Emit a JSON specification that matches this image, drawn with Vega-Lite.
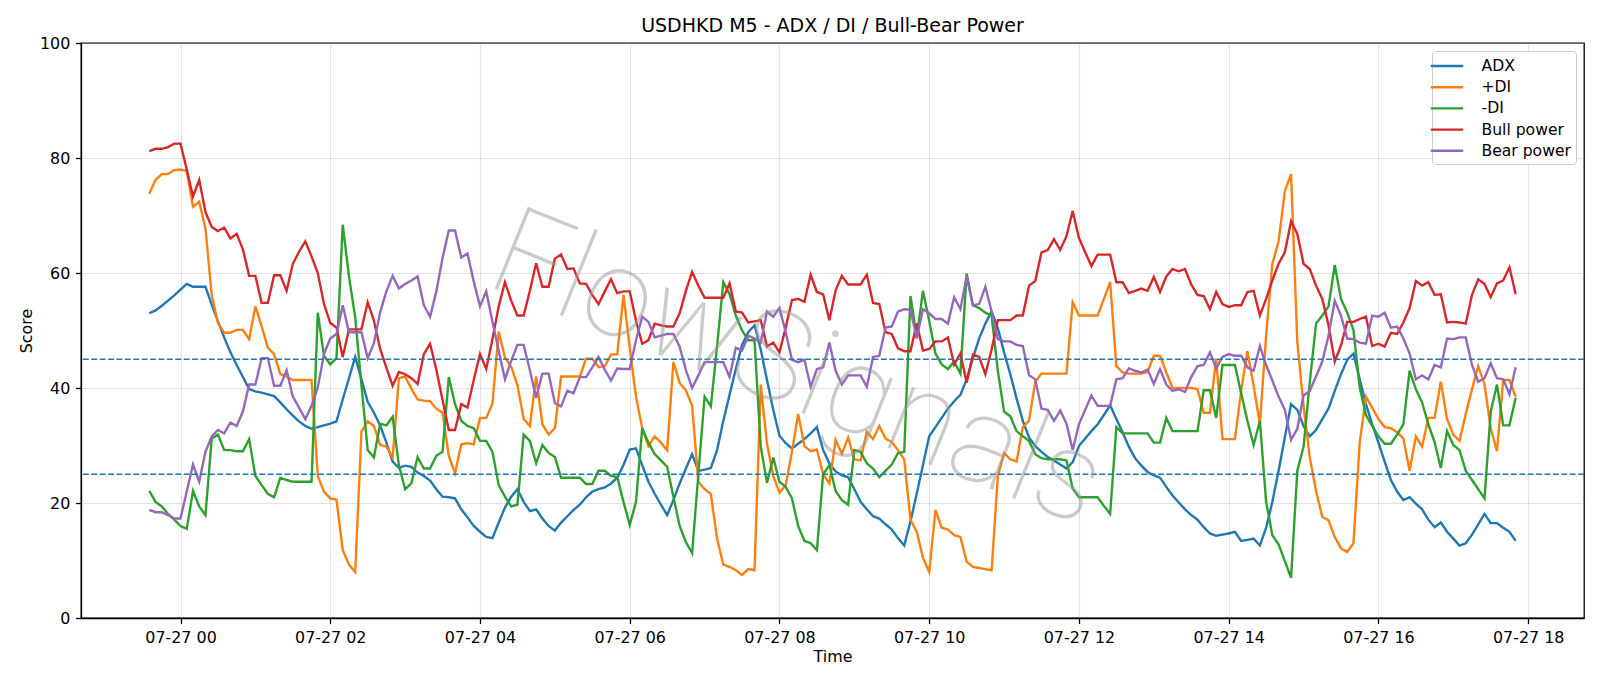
{
  "$schema": "https://vega.github.io/schema/vega-lite/v6.json",
  "width": 1503,
  "height": 575,
  "autosize": {"type": "none"},
  "padding": {"left": 81, "top": 43, "right": 16, "bottom": 68},
  "background": "white",
  "title": {"text": "USDHKD M5 - ADX / DI / Bull-Bear Power", "fontSize": 19, "fontWeight": "normal", "color": "black", "offset": -1},
  "config": {
    "font": "DejaVu Sans",
    "view": {"stroke": "black", "strokeWidth": 1.3},
    "axis": {"domainColor": "black", "domainWidth": 1.3, "tickColor": "black", "tickWidth": 1.3, "tickSize": 5.6,
             "labelFontSize": 15.9, "labelColor": "black", "labelPadding": 5.6,
             "titleFontSize": 15.9, "titleFontWeight": "normal", "titleColor": "black",
             "gridColor": "#b0b0b0", "gridOpacity": 0.35, "gridWidth": 1.2}
  },
  "datasets": {
    "ind": [
{"t":"2025-07-26T23:35","ADX":53.0,"+DI":73.8,"-DI":22.1,"Bull power":81.2,"Bear power":18.8},
{"t":"2025-07-26T23:40","ADX":53.5,"+DI":76.2,"-DI":20.2,"Bull power":81.6,"Bear power":18.4},
{"t":"2025-07-26T23:45","ADX":54.3,"+DI":77.2,"-DI":19.4,"Bull power":81.6,"Bear power":18.4},
{"t":"2025-07-26T23:50","ADX":55.2,"+DI":77.2,"-DI":18.1,"Bull power":81.9,"Bear power":17.9},
{"t":"2025-07-26T23:55","ADX":56.1,"+DI":77.9,"-DI":17.1,"Bull power":82.5,"Bear power":17.3},
{"t":"2025-07-27T00:00","ADX":57.1,"+DI":78.0,"-DI":16.0,"Bull power":82.5,"Bear power":17.3},
{"t":"2025-07-27T00:05","ADX":58.1,"+DI":77.7,"-DI":15.5,"Bull power":78.0,"Bear power":22.0},
{"t":"2025-07-27T00:10","ADX":57.6,"+DI":71.5,"-DI":22.1,"Bull power":73.3,"Bear power":26.7},
{"t":"2025-07-27T00:15","ADX":57.6,"+DI":72.4,"-DI":19.4,"Bull power":76.2,"Bear power":23.7},
{"t":"2025-07-27T00:20","ADX":57.6,"+DI":67.7,"-DI":17.9,"Bull power":70.6,"Bear power":28.9},
{"t":"2025-07-27T00:25","ADX":54.5,"+DI":56.2,"-DI":31.2,"Bull power":68.0,"Bear power":31.6},
{"t":"2025-07-27T00:30","ADX":51.6,"+DI":51.3,"-DI":31.9,"Bull power":67.3,"Bear power":32.7},
{"t":"2025-07-27T00:35","ADX":48.8,"+DI":49.6,"-DI":29.2,"Bull power":67.9,"Bear power":32.1},
{"t":"2025-07-27T00:40","ADX":46.2,"+DI":49.6,"-DI":29.2,"Bull power":66.0,"Bear power":34.0},
{"t":"2025-07-27T00:45","ADX":44.0,"+DI":50.1,"-DI":29.0,"Bull power":66.8,"Bear power":33.4},
{"t":"2025-07-27T00:50","ADX":41.9,"+DI":50.1,"-DI":29.0,"Bull power":64.1,"Bear power":35.9},
{"t":"2025-07-27T00:55","ADX":39.8,"+DI":48.5,"-DI":31.1,"Bull power":59.5,"Bear power":40.6},
{"t":"2025-07-27T01:00","ADX":39.4,"+DI":54.2,"-DI":24.7,"Bull power":59.5,"Bear power":40.6},
{"t":"2025-07-27T01:05","ADX":39.2,"+DI":50.7,"-DI":23.1,"Bull power":54.8,"Bear power":45.2},
{"t":"2025-07-27T01:10","ADX":38.9,"+DI":47.0,"-DI":21.6,"Bull power":54.8,"Bear power":45.2},
{"t":"2025-07-27T01:15","ADX":38.6,"+DI":45.9,"-DI":21.0,"Bull power":59.6,"Bear power":40.4},
{"t":"2025-07-27T01:20","ADX":37.5,"+DI":42.4,"-DI":24.4,"Bull power":59.6,"Bear power":40.4},
{"t":"2025-07-27T01:25","ADX":36.3,"+DI":42.0,"-DI":24.0,"Bull power":56.9,"Bear power":43.1},
{"t":"2025-07-27T01:30","ADX":35.2,"+DI":41.4,"-DI":23.7,"Bull power":61.6,"Bear power":38.5},
{"t":"2025-07-27T01:35","ADX":34.2,"+DI":41.4,"-DI":23.7,"Bull power":63.7,"Bear power":36.6},
{"t":"2025-07-27T01:40","ADX":33.4,"+DI":41.4,"-DI":23.7,"Bull power":65.5,"Bear power":34.6},
{"t":"2025-07-27T01:45","ADX":32.9,"+DI":41.4,"-DI":23.7,"Bull power":62.9,"Bear power":36.9},
{"t":"2025-07-27T01:50","ADX":33.2,"+DI":24.7,"-DI":53.1,"Bull power":60.0,"Bear power":40.1},
{"t":"2025-07-27T01:55","ADX":33.5,"+DI":22.0,"-DI":45.6,"Bull power":54.6,"Bear power":45.9},
{"t":"2025-07-27T02:00","ADX":33.8,"+DI":20.8,"-DI":44.1,"Bull power":51.3,"Bear power":48.6},
{"t":"2025-07-27T02:05","ADX":34.2,"+DI":20.6,"-DI":45.2,"Bull power":50.5,"Bear power":49.4},
{"t":"2025-07-27T02:10","ADX":38.0,"+DI":11.8,"-DI":68.4,"Bull power":45.4,"Bear power":54.4},
{"t":"2025-07-27T02:15","ADX":41.7,"+DI":9.3,"-DI":59.4,"Bull power":50.2,"Bear power":49.7},
{"t":"2025-07-27T02:20","ADX":45.4,"+DI":8.0,"-DI":52.3,"Bull power":50.2,"Bear power":49.7},
{"t":"2025-07-27T02:25","ADX":41.5,"+DI":32.4,"-DI":40.5,"Bull power":50.2,"Bear power":49.7},
{"t":"2025-07-27T02:30","ADX":37.6,"+DI":34.2,"-DI":29.2,"Bull power":54.9,"Bear power":45.2},
{"t":"2025-07-27T02:35","ADX":35.7,"+DI":33.4,"-DI":27.9,"Bull power":51.7,"Bear power":47.8},
{"t":"2025-07-27T02:40","ADX":33.5,"+DI":30.1,"-DI":33.8,"Bull power":46.8,"Bear power":53.2},
{"t":"2025-07-27T02:45","ADX":30.5,"+DI":29.8,"-DI":33.5,"Bull power":43.5,"Bear power":56.8},
{"t":"2025-07-27T02:50","ADX":27.2,"+DI":27.9,"-DI":35.0,"Bull power":40.4,"Bear power":59.5},
{"t":"2025-07-27T02:55","ADX":26.1,"+DI":41.7,"-DI":26.6,"Bull power":42.8,"Bear power":57.3},
{"t":"2025-07-27T03:00","ADX":26.5,"+DI":42.0,"-DI":22.4,"Bull power":42.4,"Bear power":58.1},
{"t":"2025-07-27T03:05","ADX":26.3,"+DI":39.9,"-DI":23.4,"Bull power":41.7,"Bear power":58.7},
{"t":"2025-07-27T03:10","ADX":25.3,"+DI":38.0,"-DI":28.0,"Bull power":40.7,"Bear power":59.4},
{"t":"2025-07-27T03:15","ADX":24.7,"+DI":37.8,"-DI":26.0,"Bull power":45.9,"Bear power":54.4},
{"t":"2025-07-27T03:20","ADX":23.9,"+DI":37.7,"-DI":26.0,"Bull power":47.7,"Bear power":52.4},
{"t":"2025-07-27T03:25","ADX":22.4,"+DI":36.4,"-DI":28.2,"Bull power":43.2,"Bear power":56.8},
{"t":"2025-07-27T03:30","ADX":21.1,"+DI":35.7,"-DI":28.9,"Bull power":37.9,"Bear power":62.6},
{"t":"2025-07-27T03:35","ADX":21.0,"+DI":28.2,"-DI":41.9,"Bull power":32.7,"Bear power":67.4},
{"t":"2025-07-27T03:40","ADX":20.8,"+DI":25.2,"-DI":37.2,"Bull power":32.7,"Bear power":67.4},
{"t":"2025-07-27T03:45","ADX":18.9,"+DI":30.2,"-DI":34.3,"Bull power":37.2,"Bear power":62.7},
{"t":"2025-07-27T03:50","ADX":17.5,"+DI":30.4,"-DI":33.4,"Bull power":36.6,"Bear power":63.4},
{"t":"2025-07-27T03:55","ADX":16.0,"+DI":30.2,"-DI":33.0,"Bull power":41.4,"Bear power":58.5},
{"t":"2025-07-27T04:00","ADX":15.0,"+DI":34.8,"-DI":30.8,"Bull power":45.9,"Bear power":54.2},
{"t":"2025-07-27T04:05","ADX":14.1,"+DI":34.8,"-DI":30.8,"Bull power":43.3,"Bear power":56.8},
{"t":"2025-07-27T04:10","ADX":13.9,"+DI":37.3,"-DI":28.9,"Bull power":48.5,"Bear power":51.5},
{"t":"2025-07-27T04:15","ADX":16.6,"+DI":49.8,"-DI":23.1,"Bull power":54.2,"Bear power":46.5},
{"t":"2025-07-27T04:20","ADX":19.2,"+DI":45.3,"-DI":21.1,"Bull power":58.4,"Bear power":41.5},
{"t":"2025-07-27T04:25","ADX":21.1,"+DI":43.7,"-DI":19.4,"Bull power":55.2,"Bear power":44.7},
{"t":"2025-07-27T04:30","ADX":22.4,"+DI":40.5,"-DI":19.7,"Bull power":52.6,"Bear power":47.5},
{"t":"2025-07-27T04:35","ADX":20.2,"+DI":34.6,"-DI":31.9,"Bull power":52.6,"Bear power":47.5},
{"t":"2025-07-27T04:40","ADX":18.6,"+DI":33.4,"-DI":30.8,"Bull power":56.9,"Bear power":43.1},
{"t":"2025-07-27T04:45","ADX":18.9,"+DI":42.0,"-DI":26.9,"Bull power":61.7,"Bear power":38.3},
{"t":"2025-07-27T04:50","ADX":17.3,"+DI":33.7,"-DI":30.1,"Bull power":57.6,"Bear power":42.5},
{"t":"2025-07-27T04:55","ADX":16.0,"+DI":31.9,"-DI":28.7,"Bull power":57.6,"Bear power":42.5},
{"t":"2025-07-27T05:00","ADX":15.2,"+DI":33.0,"-DI":28.0,"Bull power":62.5,"Bear power":37.4},
{"t":"2025-07-27T05:05","ADX":16.6,"+DI":42.0,"-DI":24.4,"Bull power":63.2,"Bear power":36.8},
{"t":"2025-07-27T05:10","ADX":17.7,"+DI":42.0,"-DI":24.4,"Bull power":60.7,"Bear power":39.5},
{"t":"2025-07-27T05:15","ADX":18.8,"+DI":42.0,"-DI":24.4,"Bull power":60.8,"Bear power":39.1},
{"t":"2025-07-27T05:20","ADX":19.7,"+DI":42.0,"-DI":24.4,"Bull power":58.2,"Bear power":41.9},
{"t":"2025-07-27T05:25","ADX":21.0,"+DI":45.1,"-DI":23.3,"Bull power":58.1,"Bear power":41.9},
{"t":"2025-07-27T05:30","ADX":22.0,"+DI":45.1,"-DI":23.3,"Bull power":56.2,"Bear power":43.6},
{"t":"2025-07-27T05:35","ADX":22.4,"+DI":43.6,"-DI":25.6,"Bull power":54.6,"Bear power":45.4},
{"t":"2025-07-27T05:40","ADX":22.7,"+DI":43.8,"-DI":25.6,"Bull power":56.8,"Bear power":43.2},
{"t":"2025-07-27T05:45","ADX":23.4,"+DI":45.8,"-DI":24.7,"Bull power":58.9,"Bear power":41.3},
{"t":"2025-07-27T05:50","ADX":24.4,"+DI":45.9,"-DI":24.5,"Bull power":56.5,"Bear power":43.4},
{"t":"2025-07-27T05:55","ADX":26.6,"+DI":56.2,"-DI":20.2,"Bull power":56.8,"Bear power":43.3},
{"t":"2025-07-27T06:00","ADX":29.3,"+DI":47.0,"-DI":16.2,"Bull power":56.8,"Bear power":43.3},
{"t":"2025-07-27T06:05","ADX":29.5,"+DI":38.5,"-DI":20.2,"Bull power":51.7,"Bear power":48.3},
{"t":"2025-07-27T06:10","ADX":26.6,"+DI":33.0,"-DI":33.0,"Bull power":47.7,"Bear power":52.4},
{"t":"2025-07-27T06:15","ADX":23.7,"+DI":29.9,"-DI":30.5,"Bull power":48.3,"Bear power":51.5},
{"t":"2025-07-27T06:20","ADX":21.6,"+DI":31.6,"-DI":28.5,"Bull power":51.2,"Bear power":48.8},
{"t":"2025-07-27T06:25","ADX":19.7,"+DI":30.5,"-DI":27.4,"Bull power":50.9,"Bear power":49.1},
{"t":"2025-07-27T06:30","ADX":17.9,"+DI":29.2,"-DI":26.3,"Bull power":50.7,"Bear power":49.4},
{"t":"2025-07-27T06:35","ADX":20.5,"+DI":44.5,"-DI":21.1,"Bull power":50.7,"Bear power":49.4},
{"t":"2025-07-27T06:40","ADX":23.4,"+DI":40.9,"-DI":16.0,"Bull power":53.0,"Bear power":47.2},
{"t":"2025-07-27T06:45","ADX":26.0,"+DI":39.6,"-DI":13.2,"Bull power":56.9,"Bear power":43.1},
{"t":"2025-07-27T06:50","ADX":28.5,"+DI":36.9,"-DI":11.3,"Bull power":60.2,"Bear power":40.0},
{"t":"2025-07-27T06:55","ADX":25.6,"+DI":23.7,"-DI":25.0,"Bull power":57.8,"Bear power":42.2},
{"t":"2025-07-27T07:00","ADX":25.8,"+DI":22.4,"-DI":38.5,"Bull power":55.7,"Bear power":44.5},
{"t":"2025-07-27T07:05","ADX":26.1,"+DI":21.6,"-DI":36.8,"Bull power":55.7,"Bear power":44.5},
{"t":"2025-07-27T07:10","ADX":29.2,"+DI":13.8,"-DI":47.3,"Bull power":55.7,"Bear power":44.5},
{"t":"2025-07-27T07:15","ADX":34.3,"+DI":9.3,"-DI":58.4,"Bull power":55.7,"Bear power":44.5},
{"t":"2025-07-27T07:20","ADX":38.8,"+DI":8.9,"-DI":56.3,"Bull power":58.2,"Bear power":41.9},
{"t":"2025-07-27T07:25","ADX":43.3,"+DI":8.3,"-DI":52.6,"Bull power":53.3,"Bear power":47.0},
{"t":"2025-07-27T07:30","ADX":47.5,"+DI":7.5,"-DI":50.0,"Bull power":53.1,"Bear power":46.5},
{"t":"2025-07-27T07:35","ADX":49.7,"+DI":8.5,"-DI":48.3,"Bull power":51.4,"Bear power":49.1},
{"t":"2025-07-27T07:40","ADX":50.9,"+DI":8.3,"-DI":48.3,"Bull power":51.6,"Bear power":48.6},
{"t":"2025-07-27T07:45","ADX":46.7,"+DI":40.6,"-DI":29.8,"Bull power":51.8,"Bear power":47.9},
{"t":"2025-07-27T07:50","ADX":41.4,"+DI":30.3,"-DI":23.5,"Bull power":47.2,"Bear power":53.3},
{"t":"2025-07-27T07:55","ADX":36.2,"+DI":24.7,"-DI":27.9,"Bull power":47.9,"Bear power":52.4},
{"t":"2025-07-27T08:00","ADX":31.7,"+DI":21.8,"-DI":23.7,"Bull power":46.2,"Bear power":53.9},
{"t":"2025-07-27T08:05","ADX":30.4,"+DI":23.1,"-DI":22.8,"Bull power":50.5,"Bear power":49.7},
{"t":"2025-07-27T08:10","ADX":29.5,"+DI":28.9,"-DI":20.8,"Bull power":55.3,"Bear power":44.9},
{"t":"2025-07-27T08:15","ADX":30.3,"+DI":35.5,"-DI":16.0,"Bull power":55.5,"Bear power":44.5},
{"t":"2025-07-27T08:20","ADX":31.1,"+DI":29.9,"-DI":13.4,"Bull power":55.0,"Bear power":44.9},
{"t":"2025-07-27T08:25","ADX":32.1,"+DI":29.0,"-DI":13.0,"Bull power":59.7,"Bear power":40.2},
{"t":"2025-07-27T08:30","ADX":33.2,"+DI":29.3,"-DI":11.8,"Bull power":56.7,"Bear power":43.3},
{"t":"2025-07-27T08:35","ADX":29.2,"+DI":25.0,"-DI":25.0,"Bull power":56.3,"Bear power":43.6},
{"t":"2025-07-27T08:40","ADX":26.9,"+DI":23.4,"-DI":26.6,"Bull power":51.8,"Bear power":47.9},
{"t":"2025-07-27T08:45","ADX":25.5,"+DI":31.0,"-DI":22.1,"Bull power":57.0,"Bear power":43.0},
{"t":"2025-07-27T08:50","ADX":24.8,"+DI":28.5,"-DI":20.5,"Bull power":59.5,"Bear power":40.6},
{"t":"2025-07-27T08:55","ADX":24.5,"+DI":31.4,"-DI":19.7,"Bull power":58.0,"Bear power":42.2},
{"t":"2025-07-27T09:00","ADX":22.4,"+DI":27.6,"-DI":29.2,"Bull power":58.0,"Bear power":42.2},
{"t":"2025-07-27T09:05","ADX":20.2,"+DI":27.4,"-DI":28.9,"Bull power":58.0,"Bear power":42.2},
{"t":"2025-07-27T09:10","ADX":18.9,"+DI":32.4,"-DI":26.9,"Bull power":59.7,"Bear power":40.2},
{"t":"2025-07-27T09:15","ADX":17.7,"+DI":31.1,"-DI":26.0,"Bull power":54.8,"Bear power":45.4},
{"t":"2025-07-27T09:20","ADX":17.3,"+DI":33.4,"-DI":24.5,"Bull power":54.6,"Bear power":45.6},
{"t":"2025-07-27T09:25","ADX":16.3,"+DI":31.2,"-DI":25.6,"Bull power":49.7,"Bear power":50.5},
{"t":"2025-07-27T09:30","ADX":15.4,"+DI":30.6,"-DI":26.7,"Bull power":49.4,"Bear power":50.7},
{"t":"2025-07-27T09:35","ADX":13.9,"+DI":29.2,"-DI":28.7,"Bull power":46.9,"Bear power":53.3},
{"t":"2025-07-27T09:40","ADX":12.6,"+DI":27.6,"-DI":28.9,"Bull power":46.4,"Bear power":53.7},
{"t":"2025-07-27T09:45","ADX":16.8,"+DI":17.1,"-DI":56.0,"Bull power":46.4,"Bear power":53.6},
{"t":"2025-07-27T09:50","ADX":21.6,"+DI":15.0,"-DI":48.8,"Bull power":51.2,"Bear power":48.6},
{"t":"2025-07-27T09:55","ADX":26.6,"+DI":10.5,"-DI":56.9,"Bull power":46.5,"Bear power":53.7},
{"t":"2025-07-27T10:00","ADX":31.6,"+DI":8.0,"-DI":51.7,"Bull power":46.8,"Bear power":53.0},
{"t":"2025-07-27T10:05","ADX":33.2,"+DI":18.8,"-DI":46.0,"Bull power":48.1,"Bear power":52.0},
{"t":"2025-07-27T10:10","ADX":34.8,"+DI":15.7,"-DI":44.1,"Bull power":48.1,"Bear power":52.0},
{"t":"2025-07-27T10:15","ADX":36.4,"+DI":15.4,"-DI":43.3,"Bull power":48.8,"Bear power":51.2},
{"t":"2025-07-27T10:20","ADX":37.7,"+DI":14.4,"-DI":44.6,"Bull power":44.1,"Bear power":55.8},
{"t":"2025-07-27T10:25","ADX":38.8,"+DI":14.1,"-DI":42.5,"Bull power":46.0,"Bear power":53.7},
{"t":"2025-07-27T10:30","ADX":41.5,"+DI":9.8,"-DI":59.9,"Bull power":40.9,"Bear power":59.4},
{"t":"2025-07-27T10:35","ADX":45.2,"+DI":8.9,"-DI":54.4,"Bull power":45.8,"Bear power":54.4},
{"t":"2025-07-27T10:40","ADX":48.6,"+DI":8.7,"-DI":53.9,"Bull power":45.4,"Bear power":54.6},
{"t":"2025-07-27T10:45","ADX":51.2,"+DI":8.5,"-DI":53.1,"Bull power":42.4,"Bear power":57.6},
{"t":"2025-07-27T10:50","ADX":53.3,"+DI":8.3,"-DI":52.6,"Bull power":46.7,"Bear power":53.3},
{"t":"2025-07-27T10:55","ADX":50.4,"+DI":24.7,"-DI":43.0,"Bull power":51.8,"Bear power":48.5},
{"t":"2025-07-27T11:00","ADX":46.2,"+DI":28.7,"-DI":35.9,"Bull power":51.8,"Bear power":48.1},
{"t":"2025-07-27T11:05","ADX":42.4,"+DI":27.6,"-DI":35.1,"Bull power":51.8,"Bear power":48.1},
{"t":"2025-07-27T11:10","ADX":38.2,"+DI":27.2,"-DI":32.5,"Bull power":52.6,"Bear power":47.5},
{"t":"2025-07-27T11:15","ADX":34.3,"+DI":33.2,"-DI":31.6,"Bull power":52.6,"Bear power":47.3},
{"t":"2025-07-27T11:20","ADX":31.4,"+DI":34.3,"-DI":30.8,"Bull power":57.8,"Bear power":42.2},
{"t":"2025-07-27T11:25","ADX":29.9,"+DI":41.1,"-DI":28.5,"Bull power":58.6,"Bear power":41.5},
{"t":"2025-07-27T11:30","ADX":28.9,"+DI":42.5,"-DI":27.8,"Bull power":63.6,"Bear power":36.4},
{"t":"2025-07-27T11:35","ADX":28.0,"+DI":42.5,"-DI":27.6,"Bull power":64.0,"Bear power":36.2},
{"t":"2025-07-27T11:40","ADX":27.4,"+DI":42.5,"-DI":27.6,"Bull power":65.9,"Bear power":34.3},
{"t":"2025-07-27T11:45","ADX":26.7,"+DI":42.5,"-DI":27.6,"Bull power":64.0,"Bear power":36.1},
{"t":"2025-07-27T11:50","ADX":26.0,"+DI":42.5,"-DI":27.4,"Bull power":66.4,"Bear power":33.8},
{"t":"2025-07-27T11:55","ADX":27.1,"+DI":54.9,"-DI":22.5,"Bull power":70.8,"Bear power":29.2},
{"t":"2025-07-27T12:00","ADX":29.9,"+DI":52.6,"-DI":21.0,"Bull power":66.1,"Bear power":33.7},
{"t":"2025-07-27T12:05","ADX":31.2,"+DI":52.6,"-DI":21.0,"Bull power":63.6,"Bear power":36.2},
{"t":"2025-07-27T12:10","ADX":32.5,"+DI":52.6,"-DI":21.0,"Bull power":61.2,"Bear power":38.7},
{"t":"2025-07-27T12:15","ADX":33.7,"+DI":52.6,"-DI":21.0,"Bull power":63.2,"Bear power":36.9},
{"t":"2025-07-27T12:20","ADX":35.3,"+DI":55.5,"-DI":19.5,"Bull power":63.2,"Bear power":36.9},
{"t":"2025-07-27T12:25","ADX":37.0,"+DI":58.4,"-DI":18.1,"Bull power":63.2,"Bear power":36.9},
{"t":"2025-07-27T12:30","ADX":34.6,"+DI":43.8,"-DI":33.2,"Bull power":58.4,"Bear power":41.5},
{"t":"2025-07-27T12:35","ADX":32.3,"+DI":42.7,"-DI":32.1,"Bull power":58.4,"Bear power":41.7},
{"t":"2025-07-27T12:40","ADX":29.8,"+DI":42.5,"-DI":32.1,"Bull power":56.5,"Bear power":43.4},
{"t":"2025-07-27T12:45","ADX":27.8,"+DI":42.5,"-DI":32.1,"Bull power":56.9,"Bear power":43.0},
{"t":"2025-07-27T12:50","ADX":26.5,"+DI":42.5,"-DI":32.1,"Bull power":57.3,"Bear power":42.7},
{"t":"2025-07-27T12:55","ADX":25.4,"+DI":42.8,"-DI":32.1,"Bull power":56.9,"Bear power":43.2},
{"t":"2025-07-27T13:00","ADX":24.8,"+DI":45.6,"-DI":30.5,"Bull power":59.3,"Bear power":40.7},
{"t":"2025-07-27T13:05","ADX":24.4,"+DI":45.6,"-DI":30.5,"Bull power":56.7,"Bear power":43.3},
{"t":"2025-07-27T13:10","ADX":22.8,"+DI":42.7,"-DI":34.8,"Bull power":59.4,"Bear power":40.6},
{"t":"2025-07-27T13:15","ADX":21.3,"+DI":40.0,"-DI":32.5,"Bull power":60.7,"Bear power":39.5},
{"t":"2025-07-27T13:20","ADX":20.1,"+DI":40.0,"-DI":32.5,"Bull power":60.3,"Bear power":39.8},
{"t":"2025-07-27T13:25","ADX":18.9,"+DI":40.0,"-DI":32.5,"Bull power":60.7,"Bear power":39.3},
{"t":"2025-07-27T13:30","ADX":17.9,"+DI":40.0,"-DI":32.5,"Bull power":58.0,"Bear power":41.9},
{"t":"2025-07-27T13:35","ADX":17.1,"+DI":39.8,"-DI":32.5,"Bull power":56.2,"Bear power":43.8},
{"t":"2025-07-27T13:40","ADX":15.8,"+DI":35.7,"-DI":39.6,"Bull power":56.0,"Bear power":44.0},
{"t":"2025-07-27T13:45","ADX":14.7,"+DI":35.7,"-DI":39.6,"Bull power":53.7,"Bear power":46.2},
{"t":"2025-07-27T13:50","ADX":14.3,"+DI":45.1,"-DI":34.8,"Bull power":56.7,"Bear power":43.4},
{"t":"2025-07-27T13:55","ADX":14.5,"+DI":31.1,"-DI":44.0,"Bull power":54.6,"Bear power":45.4},
{"t":"2025-07-27T14:00","ADX":14.7,"+DI":31.1,"-DI":44.0,"Bull power":54.1,"Bear power":45.9},
{"t":"2025-07-27T14:05","ADX":15.0,"+DI":31.1,"-DI":44.0,"Bull power":54.4,"Bear power":45.6},
{"t":"2025-07-27T14:10","ADX":13.4,"+DI":39.5,"-DI":39.1,"Bull power":54.4,"Bear power":45.6},
{"t":"2025-07-27T14:15","ADX":13.6,"+DI":46.4,"-DI":34.3,"Bull power":56.7,"Bear power":43.6},
{"t":"2025-07-27T14:20","ADX":13.8,"+DI":40.4,"-DI":30.1,"Bull power":56.9,"Bear power":43.0},
{"t":"2025-07-27T14:25","ADX":12.6,"+DI":33.7,"-DI":34.3,"Bull power":52.6,"Bear power":47.3},
{"t":"2025-07-27T14:30","ADX":15.7,"+DI":49.1,"-DI":20.2,"Bull power":55.5,"Bear power":44.0},
{"t":"2025-07-27T14:35","ADX":20.2,"+DI":61.6,"-DI":14.4,"Bull power":58.7,"Bear power":41.3},
{"t":"2025-07-27T14:40","ADX":25.6,"+DI":65.5,"-DI":12.8,"Bull power":61.6,"Bear power":38.5},
{"t":"2025-07-27T14:45","ADX":31.4,"+DI":74.2,"-DI":9.9,"Bull power":63.6,"Bear power":36.2},
{"t":"2025-07-27T14:50","ADX":37.2,"+DI":77.2,"-DI":7.0,"Bull power":69.0,"Bear power":31.0},
{"t":"2025-07-27T14:55","ADX":36.2,"+DI":48.0,"-DI":25.6,"Bull power":66.8,"Bear power":32.9},
{"t":"2025-07-27T15:00","ADX":33.4,"+DI":36.9,"-DI":29.8,"Bull power":61.6,"Bear power":38.7},
{"t":"2025-07-27T15:05","ADX":31.6,"+DI":27.9,"-DI":41.0,"Bull power":60.7,"Bear power":39.5},
{"t":"2025-07-27T15:10","ADX":32.7,"+DI":22.1,"-DI":51.2,"Bull power":57.8,"Bear power":42.0},
{"t":"2025-07-27T15:15","ADX":34.6,"+DI":17.6,"-DI":52.6,"Bull power":55.5,"Bear power":44.6},
{"t":"2025-07-27T15:20","ADX":36.4,"+DI":17.0,"-DI":54.2,"Bull power":50.9,"Bear power":49.1},
{"t":"2025-07-27T15:25","ADX":39.5,"+DI":14.1,"-DI":61.4,"Bull power":44.6,"Bear power":55.2},
{"t":"2025-07-27T15:30","ADX":42.4,"+DI":12.1,"-DI":55.5,"Bull power":47.4,"Bear power":52.6},
{"t":"2025-07-27T15:35","ADX":44.9,"+DI":11.5,"-DI":53.1,"Bull power":51.5,"Bear power":48.6},
{"t":"2025-07-27T15:40","ADX":46.0,"+DI":13.0,"-DI":50.1,"Bull power":51.5,"Bear power":48.5},
{"t":"2025-07-27T15:45","ADX":41.5,"+DI":30.5,"-DI":40.1,"Bull power":52.0,"Bear power":47.9},
{"t":"2025-07-27T15:50","ADX":37.2,"+DI":38.5,"-DI":35.3,"Bull power":52.4,"Bear power":47.7},
{"t":"2025-07-27T15:55","ADX":33.7,"+DI":36.6,"-DI":33.4,"Bull power":47.3,"Bear power":52.6},
{"t":"2025-07-27T16:00","ADX":30.5,"+DI":34.6,"-DI":31.6,"Bull power":47.7,"Bear power":52.4},
{"t":"2025-07-27T16:05","ADX":27.2,"+DI":33.2,"-DI":30.3,"Bull power":47.2,"Bear power":53.1},
{"t":"2025-07-27T16:10","ADX":24.0,"+DI":33.0,"-DI":30.3,"Bull power":49.6,"Bear power":50.5},
{"t":"2025-07-27T16:15","ADX":22.0,"+DI":32.3,"-DI":31.9,"Bull power":49.4,"Bear power":50.7},
{"t":"2025-07-27T16:20","ADX":20.5,"+DI":31.2,"-DI":33.7,"Bull power":51.4,"Bear power":48.6},
{"t":"2025-07-27T16:25","ADX":21.0,"+DI":25.6,"-DI":43.0,"Bull power":53.9,"Bear power":46.0},
{"t":"2025-07-27T16:30","ADX":19.9,"+DI":31.6,"-DI":39.8,"Bull power":58.6,"Bear power":41.5},
{"t":"2025-07-27T16:35","ADX":18.9,"+DI":29.8,"-DI":37.5,"Bull power":57.8,"Bear power":42.2},
{"t":"2025-07-27T16:40","ADX":17.1,"+DI":34.8,"-DI":33.7,"Bull power":58.4,"Bear power":41.5},
{"t":"2025-07-27T16:45","ADX":15.8,"+DI":34.8,"-DI":30.6,"Bull power":56.2,"Bear power":44.0},
{"t":"2025-07-27T16:50","ADX":16.6,"+DI":41.1,"-DI":26.1,"Bull power":56.3,"Bear power":43.6},
{"t":"2025-07-27T16:55","ADX":15.0,"+DI":34.6,"-DI":32.5,"Bull power":51.4,"Bear power":48.6},
{"t":"2025-07-27T17:00","ADX":13.8,"+DI":31.9,"-DI":30.1,"Bull power":51.5,"Bear power":48.5},
{"t":"2025-07-27T17:05","ADX":12.6,"+DI":30.8,"-DI":29.2,"Bull power":51.4,"Bear power":48.8},
{"t":"2025-07-27T17:10","ADX":13.0,"+DI":35.5,"-DI":25.6,"Bull power":51.2,"Bear power":48.8},
{"t":"2025-07-27T17:15","ADX":14.5,"+DI":39.8,"-DI":24.0,"Bull power":56.2,"Bear power":44.0},
{"t":"2025-07-27T17:20","ADX":16.3,"+DI":43.8,"-DI":22.4,"Bull power":58.9,"Bear power":41.1},
{"t":"2025-07-27T17:25","ADX":18.1,"+DI":40.7,"-DI":20.8,"Bull power":58.1,"Bear power":41.7},
{"t":"2025-07-27T17:30","ADX":16.5,"+DI":33.0,"-DI":35.9,"Bull power":55.8,"Bear power":44.3},
{"t":"2025-07-27T17:35","ADX":16.5,"+DI":29.0,"-DI":40.6,"Bull power":58.2,"Bear power":41.7},
{"t":"2025-07-27T17:40","ADX":15.7,"+DI":41.4,"-DI":33.5,"Bull power":58.7,"Bear power":41.5},
{"t":"2025-07-27T17:45","ADX":15.0,"+DI":41.4,"-DI":33.5,"Bull power":61.0,"Bear power":38.9},
{"t":"2025-07-27T17:50","ADX":13.4,"+DI":38.5,"-DI":38.3,"Bull power":56.3,"Bear power":43.6}
    ],
    "levels": [{"level": 25}, {"level": 45}],
    "wm": [{"t": "2025-07-27T08:14", "v": 43, "w": "FlowSignals"}]
  },
  "layer": [
    {
      "data": {"name": "ind"},
      "transform": [{"fold": ["ADX", "+DI", "-DI", "Bull power", "Bear power"], "as": ["series", "value"]}],
      "mark": {"type": "line", "strokeWidth": 2.38},
      "encoding": {
        "x": {
          "field": "t", "type": "temporal",
          "scale": {"domain": [
            {"year": 2025, "month": 7, "date": 26, "hours": 22, "minutes": 40, "seconds": 15},
            {"year": 2025, "month": 7, "date": 27, "hours": 18, "minutes": 44, "seconds": 45}
          ]},
          "axis": {"title": "Time", "format": "%m-%d %H", "labelFlush": false, "titlePadding": 3.4,
                   "values": [
                     {"year": 2025, "month": 7, "date": 27, "hours": 0},
                     {"year": 2025, "month": 7, "date": 27, "hours": 2},
                     {"year": 2025, "month": 7, "date": 27, "hours": 4},
                     {"year": 2025, "month": 7, "date": 27, "hours": 6},
                     {"year": 2025, "month": 7, "date": 27, "hours": 8},
                     {"year": 2025, "month": 7, "date": 27, "hours": 10},
                     {"year": 2025, "month": 7, "date": 27, "hours": 12},
                     {"year": 2025, "month": 7, "date": 27, "hours": 14},
                     {"year": 2025, "month": 7, "date": 27, "hours": 16},
                     {"year": 2025, "month": 7, "date": 27, "hours": 18}
                   ]}
        },
        "y": {"field": "value", "type": "quantitative", "scale": {"domain": [0, 100], "nice": false},
              "axis": {"title": "Score", "values": [0, 20, 40, 60, 80, 100], "titlePadding": 4.7}},
        "color": {
          "field": "series", "type": "nominal",
          "scale": {"domain": ["ADX", "+DI", "-DI", "Bull power", "Bear power"],
                    "range": ["#1f77b4", "#ff7f0e", "#2ca02c", "#d62728", "#9467bd"]},
          "legend": {"title": null, "orient": "top-right", "offset": 8,
                     "symbolType": "M-1.8,0H1.8", "symbolSize": 324, "symbolStrokeWidth": 2.38,
                     "labelFontSize": 15.6, "labelColor": "black", "labelOffset": 24,
                     "rowPadding": 1.2, "padding": 4.5,
                     "fillColor": "#ffffff", "strokeColor": "#cccccc", "cornerRadius": 3}
        }
      }
    },
    {
      "data": {"name": "levels"},
      "mark": {"type": "rule", "color": "#1f77b4", "strokeWidth": 1.5, "strokeDash": [5.9, 2.5]},
      "encoding": {
        "y": {"field": "level", "type": "quantitative"}
      }
    },
    {
      "data": {"name": "wm"},
      "mark": {"type": "text", "angle": 22, "font": "Roboto", "fontSize": 124, "fontWeight": 100,
               "color": "#999999", "opacity": 0.5, "align": "center", "baseline": "middle"},
      "encoding": {
        "x": {"field": "t", "type": "temporal"},
        "y": {"field": "v", "type": "quantitative"},
        "text": {"field": "w"}
      }
    }
  ]
}
